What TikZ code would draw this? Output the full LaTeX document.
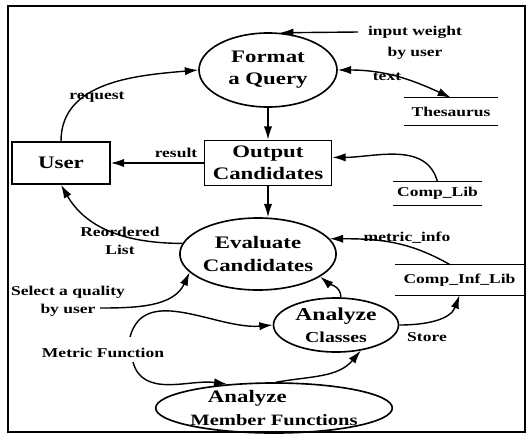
\documentclass[tikz,border=0pt]{standalone}
\usepackage{fontspec}
\setmainfont{Liberation Serif}[FakeStretch=1.3]
\usetikzlibrary{shapes.geometric,arrows.meta}
\tikzset{
  >={Latex[length=4mm,width=2.5mm]},
  proc/.style={draw,ellipse,line width=1.4pt,inner sep=0pt,align=center,
    font=\fontsize{15}{19}\selectfont\bfseries},
  ent/.style={draw,rectangle,line width=1.4pt,inner sep=0pt,align=center,
    font=\fontsize{15}{19}\selectfont\bfseries},
  store/.style={inner sep=0pt,font=\fontsize{11.5}{14}\selectfont\bfseries},
  lbl/.style={inner sep=0pt,align=center,font=\fontsize{11.5}{15}\selectfont\bfseries},
  flow/.style={line width=1.2pt,->}
}

\begin{document}
\begin{tikzpicture}[x=0.03cm,y=-0.03cm]
        \useasboundingbox (0,0) rectangle (529,436);
        \draw[line width=1.1pt] (8,6) rectangle (525,432);
        % Processes and entities
        \node[proc,minimum width=4.14cm,minimum height=2.22cm] (query) at (268,70) {Format\\a Query};
        \node[ent,minimum width=3.81cm,minimum height=1.35cm] (output) at (268,163) {Output\\Candidates};
        \node[ent,minimum width=2.94cm,minimum height=1.26cm] (user) at (61,163) {User};
        \node[proc,minimum width=3.93cm,minimum height=2.16cm] (eval) at (258,254) {Evaluate\\Candidates};
        \node[proc,minimum width=3.75cm,minimum height=1.62cm] (classes) at (336,325)
          {\fontsize{15.5}{20}\selectfont Analyze\\\fontsize{13}{20}\selectfont Classes};
        \node[proc,minimum width=6.21cm,minimum height=1.5cm] (member) at (274,408)
          {\fontsize{15}{20}\selectfont Analyze\hspace*{1.6cm}\\\fontsize{13.5}{20}\selectfont Member Functions};

        % Data stores
        \node[store,minimum width=2.79cm,minimum height=0.81cm] (thes) at (451,111.5) {Thesaurus};
        \draw[line width=1.1pt] (thes.north west) -- (thes.north east) (thes.south west) -- (thes.south east);
        \node[store,minimum width=2.67cm,minimum height=0.69cm] (complib) at (437.5,193.5) {Comp\_Lib};
        \draw[line width=1.1pt] (complib.north west) -- (complib.north east) (complib.south west) -- (complib.south east);
        \node[store,minimum width=3.87cm,minimum height=0.9cm] (compinf) at (459.5,280) {Comp\_Inf\_Lib};
        \draw[line width=1.1pt] (compinf.north west) -- (compinf.north east) (compinf.south west) -- (compinf.south east);

        % Labels
        \node[lbl] (inw) at (415,43) {input weight\\[3pt]by user};
        \node[lbl] (txt) at (387,77) {text};
        \node[lbl] (req) at (97,97) {request};
        \node[lbl] (res) at (176,153) {result};
        \node[lbl] (reord) at (120,241) {Reordered\\List};
        \node[lbl] (sel) at (68,301) {Select a quality\\by user};
        \node[lbl] (metf) at (103,353) {Metric Function};
        \node[lbl] (minfo) at (407,238) {metric\_info};
        \node[lbl] (sto) at (427,337) {Store};
        \coordinate (selq) at (100,308);
        \coordinate (mfa) at (130,337);
        \coordinate (mfb) at (133,362);
        \coordinate (inwa) at (358,32);

        % Flows
        \draw[flow] (inwa) -- (query.72);
        \draw[flow,<->] (query.east) to[out=0,in=155] (thes.north);
        \draw[flow] (user.north) to[out=90,in=185] (query.west);
        \draw[flow] (query) -- (output);
        \draw[flow] (output.west) -- (user.east);
        \draw[flow] (complib.north) to[out=105,in=0] (output.5);
        \draw[flow] (output.south) -- (output.south |- eval.north);
        \draw[flow] (eval.172) to[out=180,in=-60] (user.south);
        \draw[flow] (selq) to[out=0,in=-115] (eval.195);
        \draw[flow] ([xshift=-8pt]compinf.north) to[out=150,in=0] (eval.12);
        \draw[flow] (classes.80) to[out=90,in=-40] (eval.-20);
        \draw[flow] (classes.east) to[out=0,in=-110] (compinf.south);
        \draw[flow] (mfa) to[out=75,in=185] (classes.west);
        \draw[flow] (mfb) to[out=-75,in=172] (member.153);
        \draw[flow] (member.85) to[out=10,in=-130] (classes.-46);
\end{tikzpicture}
\end{document}
